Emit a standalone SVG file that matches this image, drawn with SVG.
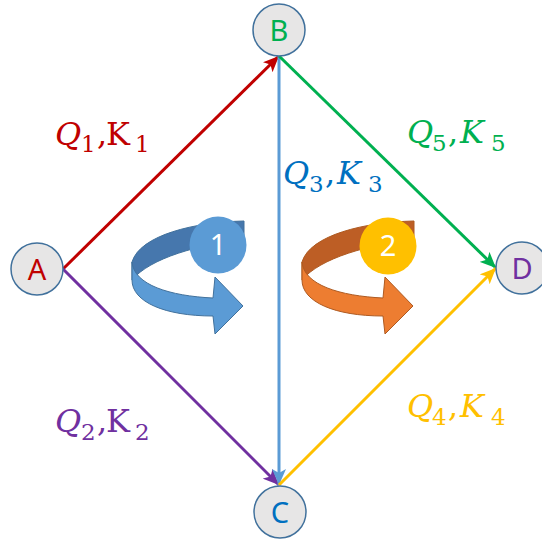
<svg xmlns="http://www.w3.org/2000/svg" width="542" height="540" viewBox="0 0 542 540">
<style>
.node circle{fill:#E7E6E6;stroke:#41719C;stroke-width:1.5}
.node text{font-family:"Noto Sans","Liberation Sans",sans-serif;font-size:29px;text-anchor:middle}
.edge{stroke-width:3;fill:none}
.lbl{font-family:"DejaVu Serif","Liberation Serif",serif;font-size:32px}
.it{font-style:italic}
.sub{font-size:23px;font-style:normal}
.badge text{font-family:"Noto Sans","Liberation Sans",sans-serif;font-size:29px;fill:#fff;text-anchor:middle}
</style>
<defs>
<marker id="mR" markerUnits="userSpaceOnUse" markerWidth="17" markerHeight="14" refX="16" refY="7" orient="auto"><path d="M0,0 L16,7 L0,14 L4,7 Z" fill="#C00000"/></marker>
<marker id="mP" markerUnits="userSpaceOnUse" markerWidth="17" markerHeight="14" refX="16" refY="7" orient="auto"><path d="M0,0 L16,7 L0,14 L4,7 Z" fill="#7030A0"/></marker>
<marker id="mB" markerUnits="userSpaceOnUse" markerWidth="17" markerHeight="14" refX="16" refY="7" orient="auto"><path d="M0,0 L16,7 L0,14 L4,7 Z" fill="#5B9BD5"/></marker>
<marker id="mG" markerUnits="userSpaceOnUse" markerWidth="17" markerHeight="14" refX="16" refY="7" orient="auto"><path d="M0,0 L16,7 L0,14 L4,7 Z" fill="#00B050"/></marker>
<marker id="mY" markerUnits="userSpaceOnUse" markerWidth="17" markerHeight="14" refX="16" refY="7" orient="auto"><path d="M0,0 L16,7 L0,14 L4,7 Z" fill="#FFC000"/></marker>
</defs>

<g id="connectors">
<path class="edge" stroke="#C00000" d="M63,269 L279,56" marker-end="url(#mR)"/>
<path class="edge" stroke="#7030A0" d="M63,269 L279,485" marker-end="url(#mP)"/>
<path class="edge" stroke="#5B9BD5" d="M279,56 L279,485" marker-end="url(#mB)"/>
<path class="edge" stroke="#00B050" d="M279,56 L496,268" marker-end="url(#mG)"/>
<path class="edge" stroke="#FFC000" d="M279,485 L496,268" marker-end="url(#mY)"/>
</g>

<g id="loop1" stroke="#41719C" stroke-width="1">
<path d="M244,221 C195,222 140,235 132,262 L132,280 C150,258 200,244 244,240 Z" fill="#4677AD"/>
<path d="M132,262 C134,285 170,296 213,298 L215,277 L243,306 L215,334 L213,316 C165,316 132,302 132,280 Z" fill="#5B9BD5"/>
</g>
<g id="badge1" class="badge"><circle cx="218" cy="245" r="28.5" fill="#5B9BD5"/><text x="218" y="255">1</text></g>

<g id="loop2" stroke="#AE5A21" stroke-width="1" transform="translate(170,0)">
<path d="M244,221 C195,222 140,235 132,262 L132,280 C150,258 200,244 244,240 Z" fill="#BD5E25"/>
<path d="M132,262 C134,285 170,296 213,298 L215,277 L243,306 L215,334 L213,316 C165,316 132,302 132,280 Z" fill="#ED7D31"/>
</g>
<g id="badge2" class="badge"><circle cx="388" cy="246" r="28.5" fill="#FFC000"/><text x="388" y="256">2</text></g>

<g id="labels">
<text class="lbl" fill="#C00000"><tspan class="it" x="55" y="145">Q</tspan><tspan class="sub" x="81" y="152">1</tspan><tspan x="97" y="145">,</tspan><tspan x="106" y="145">K</tspan><tspan class="sub" x="135" y="152">1</tspan></text>
<text class="lbl" fill="#7030A0"><tspan class="it" x="55" y="432">Q</tspan><tspan class="sub" x="81" y="440">2</tspan><tspan x="97" y="432">,</tspan><tspan x="106" y="432">K</tspan><tspan class="sub" x="135" y="440">2</tspan></text>
<text class="lbl" fill="#0070C0"><tspan class="it" x="283" y="184">Q</tspan><tspan class="sub" x="309" y="192">3</tspan><tspan x="325" y="184">,</tspan><tspan class="it" x="337" y="184">K</tspan><tspan class="sub" x="368" y="192">3</tspan></text>
<text class="lbl" fill="#00B050"><tspan class="it" x="407" y="143">Q</tspan><tspan class="sub" x="432" y="151">5</tspan><tspan x="448" y="143">,</tspan><tspan class="it" x="460" y="143">K</tspan><tspan class="sub" x="491" y="151">5</tspan></text>
<text class="lbl" fill="#FFC000"><tspan class="it" x="407" y="417">Q</tspan><tspan class="sub" x="432" y="425">4</tspan><tspan x="448" y="417">,</tspan><tspan class="it" x="460" y="417">K</tspan><tspan class="sub" x="491" y="425">4</tspan></text>
</g>

<g id="nodeA" class="node"><circle cx="37" cy="269" r="26"/><text x="37" y="280" fill="#C00000">A</text></g>
<g id="nodeB" class="node"><circle cx="279" cy="30" r="26"/><text x="279" y="41" fill="#00B050">B</text></g>
<g id="nodeC" class="node"><circle cx="280" cy="512" r="26"/><text x="280" y="523" fill="#0070C0">C</text></g>
<g id="nodeD" class="node"><circle cx="522" cy="268" r="26"/><text x="522" y="279" fill="#7030A0">D</text></g>
</svg>
